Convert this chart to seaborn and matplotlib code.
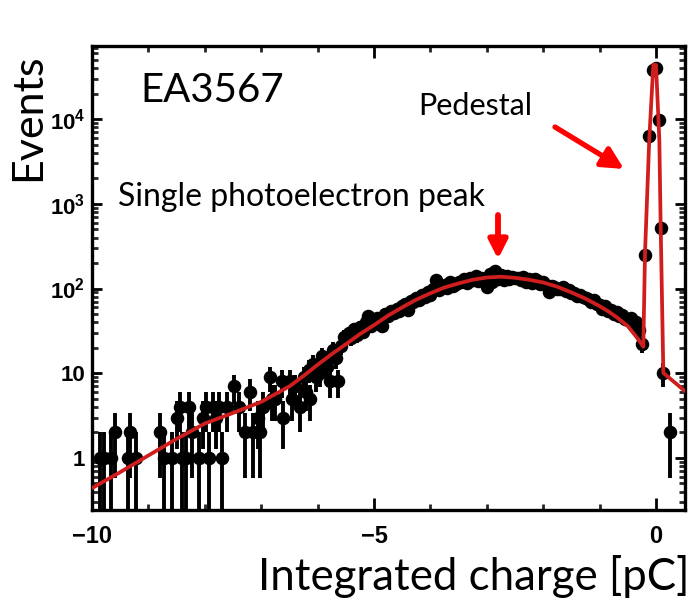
import numpy as np
import pandas as pd
import matplotlib
matplotlib.use("Agg")
import matplotlib.pyplot as plt
import seaborn as sns
from matplotlib.ticker import LogLocator, MultipleLocator, FixedLocator, NullFormatter

# ---------------- data ----------------
# sparse low-charge tail: bin centre [pC] and counts
tail_x = [-9.85, -9.78, -9.66, -9.60, -9.37, -9.33, -9.22, -8.80, -8.72, -8.58,
          -8.50, -8.44, -8.40, -8.34, -8.28, -8.22, -8.10, -8.03, -7.97, -7.93,
          -7.85, -7.80, -7.74, -7.70, -7.61, -7.49, -7.40, -7.29, -7.20, -7.14,
          -7.05, -7.02, -6.96, -6.84, -6.80, -6.76, -6.64, -6.61, -6.49, -6.46,
          -6.40, -6.31, -6.25, -6.20, -6.16, -6.13, -6.08, -6.02, -5.96, -5.92,
          -5.88, -5.84, -5.78, -5.72, -5.68, -5.63, -5.59, -5.54]
tail_n = [1, 1, 1, 2, 1, 2, 1, 2, 1, 1,
          3, 4, 1, 1, 4, 2, 1, 3, 4, 1,
          4, 3, 4, 1, 4, 7, 4, 2, 6, 2,
          3, 2, 4, 9, 5, 5, 8, 3, 8, 5,
          7, 4, 9, 6, 11, 5, 13, 9, 10, 16,
          14, 12, 8, 19, 15, 8, 21, 27]

# single-photoelectron region: 0.05 pC bins from -5.45 to -0.30 pC
bulk_x = np.round(np.arange(-5.45, -0.275, 0.05), 3)
bulk_n = [30, 26, 33, 28, 35, 31, 40, 48, 36, 42,
          45, 42, 36, 50, 47, 55, 51, 58, 54, 62,
          66, 56, 72, 70, 78, 74, 85, 80, 90, 84,
          100, 125, 95, 104, 110, 102, 118, 108, 112, 120,
          120, 128, 115, 132, 126, 140, 122, 135, 128, 105,
          150, 118, 160, 130, 145, 125, 140, 128, 138, 132,
          135, 126, 138, 120, 130, 115, 128, 122, 112, 120,
          110, 92, 108, 104, 100, 98, 103, 94, 96, 88,
          88, 82, 85, 80, 78, 76, 70, 74, 66, 64,
          58, 62, 54, 56, 50, 53, 47, 49, 44, 42,
          45, 38, 40, 32]

# pedestal
ped_x = [-0.25, -0.195, -0.12, -0.048, 0.0, 0.06, 0.083, 0.12, 0.25]
ped_n = [22, 250, 6300, 38000, 40000, 9800, 525, 10, 2]

# fit curve
fit_x = [-10.0, -9.5, -9.0, -8.5, -8.0, -7.5, -7.0, -6.5, -6.25, -6.0,
         -5.75, -5.5, -5.25, -5.0, -4.75, -4.5, -4.25, -4.0, -3.75, -3.5,
         -3.25, -3.0, -2.75, -2.5, -2.25, -2.0, -1.75, -1.5, -1.25, -1.0,
         -0.85, -0.7, -0.5, -0.35, -0.225, -0.195, -0.12, -0.048, 0.0, 0.059,
         0.083, 0.13, 0.52]
fit_y = [0.44, 0.68, 1.07, 1.68, 2.55, 3.4, 4.6, 7.0, 9.3, 12.6,
         16.8, 22, 29, 37, 48, 60, 74, 88, 103, 115,
         127, 135, 138, 134, 127, 118, 105, 90, 76, 62,
         54, 46, 36, 27, 20.6, 263, 5680, 43600, 43600, 5680,
         534, 10.1, 6.1]

x_ticks = [-10, -5, 0]
x_ticklabels = ["\u221210", "\u22125", "0"]
y_ticks = [1, 10, 100, 1000, 10000]
y_ticklabels = ["1", "10", r"$\mathrm{10^{2}}$", r"$\mathrm{10^{3}}$", r"$\mathrm{10^{4}}$"]

# ---------------- figure ----------------
sns.set_theme(style="white")
plt.rcParams["font.family"] = ["Liberation Sans", "DejaVu Sans"]
plt.rcParams["mathtext.fontset"] = "custom"
plt.rcParams["mathtext.rm"] = "Liberation Sans:bold"
plt.rcParams["mathtext.bf"] = "Liberation Sans:bold"
plt.rcParams["mathtext.it"] = "Liberation Sans:bold"

W, H = 694, 600
fig = plt.figure(figsize=(W / 100, H / 100), dpi=100, facecolor="white")
ax = fig.add_axes([92 / W, 1 - 510 / H, (685 - 92) / W, (510 - 46) / H])
ax.set_facecolor("white")

pts = pd.DataFrame({
    "x": np.concatenate([tail_x, bulk_x, ped_x]).astype(float),
    "n": np.concatenate([tail_n, bulk_n, ped_n]).astype(float),
})
fit = pd.DataFrame({"x": fit_x, "y": fit_y})

ax.set_yscale("log")
ax.set_xlim(-10, 0.514)
ax.set_ylim(0.243, 73000)

# Poisson error bars
err = np.sqrt(pts["n"].values)
lo = pts["n"].values - err
lo = np.where(lo <= 0, 0.05, lo)
ax.vlines(pts["x"], lo, pts["n"].values + err, color="black", lw=2.8, zorder=2)

sns.scatterplot(data=pts, x="x", y="n", color="black", s=95, linewidth=0,
                ax=ax, zorder=3, legend=False)
sns.lineplot(data=fit, x="x", y="y", color="#d01e1e", lw=2.7, estimator=None,
             sort=False, ax=ax, zorder=4, legend=False)

ax.set_xlabel("")
ax.set_ylabel("")

# ticks
ax.xaxis.set_major_locator(FixedLocator(x_ticks))
ax.set_xticklabels(x_ticklabels)
ax.xaxis.set_minor_locator(MultipleLocator(1))
ax.yaxis.set_major_locator(FixedLocator(y_ticks))
ax.set_yticklabels(y_ticklabels)
ax.yaxis.set_minor_locator(LogLocator(base=10, subs=np.arange(2, 10), numticks=20))
ax.yaxis.set_minor_formatter(NullFormatter())

ax.tick_params(axis="x", which="major", direction="in", top=True, bottom=True,
               length=8.5, width=2, pad=11, labelsize=17, colors="black")
ax.tick_params(axis="x", which="minor", direction="in", top=True, bottom=True,
               length=4, width=2)
ax.tick_params(axis="y", which="major", direction="in", left=True, right=True,
               length=7.5, width=2, pad=5, labelsize=16, colors="black")
ax.tick_params(axis="y", which="minor", direction="in", left=True, right=True,
               length=4.5, width=2)
for lab in ax.get_xticklabels() + ax.get_yticklabels():
    lab.set_fontweight("bold")

for sp in ax.spines.values():
    sp.set_visible(True)
    sp.set_color("black")
    sp.set_linewidth(2.4)


def fx(px):
    return px / W


def fy(py):
    return 1 - py / H


tfam = ["Lato", "DejaVu Sans"]
fig.text(fx(28), fy(117), "Events", rotation=90, ha="center", va="center",
         fontsize=31, family=tfam, color="black")
fig.text(fx(690), fy(590), "Integrated charge [pC]", ha="right", va="baseline",
         fontsize=31.5, family=tfam, color="black")
fig.text(fx(140), fy(102), "EA3567", ha="left", va="baseline",
         fontsize=29, family=tfam, color="black")
fig.text(fx(418), fy(115), "Pedestal", ha="left", va="baseline",
         fontsize=22, family=tfam, color="black")
fig.text(fx(118), fy(206), "Single photoelectron peak", ha="left", va="baseline",
         fontsize=23, family=tfam, color="black")

# arrows
ax.annotate("", xy=(fx(624), fy(169)), xytext=(fx(555), fy(127)),
            xycoords="figure fraction", textcoords="figure fraction",
            arrowprops=dict(arrowstyle="-|>,head_length=0.65,head_width=0.33",
                            color="#ff0000", lw=3.8,
                            mutation_scale=20, shrinkA=0, shrinkB=0))
ax.annotate("", xy=(fx(498), fy(259)), xytext=(fx(498), fy(215)),
            xycoords="figure fraction", textcoords="figure fraction",
            arrowprops=dict(arrowstyle="-|>,head_length=0.55,head_width=0.28",
                            color="#ff0000", lw=4.2,
                            mutation_scale=20, shrinkA=0, shrinkB=0))

fig.savefig("out.png", dpi=100, facecolor="white")
